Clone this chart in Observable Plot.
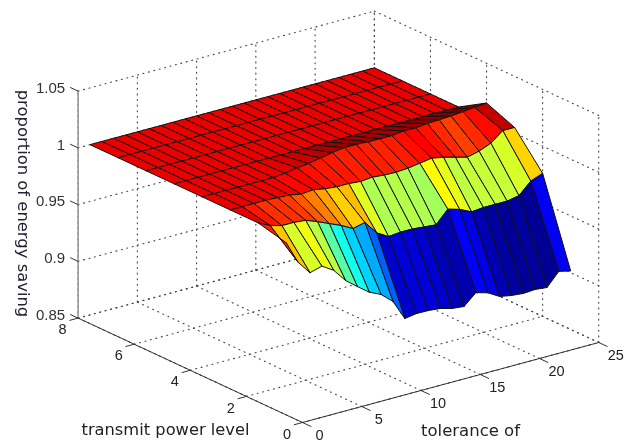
<!DOCTYPE html>
<html>
<head>
<meta charset="utf-8">
<script src="https://cdn.jsdelivr.net/npm/d3@7"></script>
<script src="https://cdn.jsdelivr.net/npm/@observablehq/plot@0.6"></script>
<style>
html,body{margin:0;padding:0;background:#fff}
svg{display:block}
</style>
</head>
<body>
<div id="chart"></div>
<script>
const tolerance = d3.range(1, 26);
const powerLevels = [1, 2, 3, 4, 5, 6, 7, 8];
const level1 = [0.994,0.974,0.962,0.965,0.9585,0.9467,0.9385,0.9308,0.9259,0.917,0.8991,0.9007,0.9005,0.8995,0.8967,0.8956,0.905,0.902,0.896,0.894,0.893,0.8937,0.8926,0.904,0.9015];
const level2 = [1,0.995,0.992,0.992,0.991,0.987,0.9825,0.978,0.9725,0.975,0.963,0.957,0.958,0.958,0.957,0.956,0.967,0.964,0.959,0.96,0.96,0.96,0.962,0.972,0.976];
const level3 = [1,1,1,1,0.9995,0.999,0.997,0.998,0.996,0.995,0.995,0.994,0.995,0.994,0.9937,0.9944,0.996,0.9976,0.9956,0.9928,0.99,0.9925,0.9967,1.005,1.005];
const level4 = [1,1,1,1,1,1,1,1.001,1.003,1.004,1.006,1.008,1.0095,1.0095,1.009,1.0088,1.0088,1.01,1.01,1.011,1.0115,1.012,1.013,1.014,1.015];
const level5 = [1,1,1,1,1,1,1,1,1,1,1,1,1,1,1,1,1,1,1,1,1,1,1,1,1];
const level6 = [1,1,1,1,1,1,1,1,1,1,1,1,1,1,1,1,1,1,1,1,1,1,1,1,1];
const level7 = [1,1,1,1,1,1,1,1,1,1,1,1,1,1,1,1,1,1,1,1,1,1,1,1,1];
const level8 = [1,1,1,1,1,1,1,1,1,1,1,1,1,1,1,1,1,1,1,1,1,1,1,1,1];
const surface = [level1, level2, level3, level4, level5, level6, level7, level8];

const xTicks = [0, 5, 10, 15, 20, 25];
const yTicks = [0, 2, 4, 6, 8];
const zTicks = [0.85, 0.9, 0.95, 1, 1.05];
const zTickLabels = ["0.85", "0.9", "0.95", "1", "1.05"];
const jetStops = [0, 0.125, 0.375, 0.625, 0.875, 1];
const jetColors = ["#000080", "#0000ff", "#00ffff", "#ffff00", "#ff0000", "#800000"];
const zMin = 0.85, zMax = 1.05, cMin = 0.89, cMax = 1.013;

// orthographic view of the data cube
const u = (x, y) => 11.85 * x - 28.05 * y;
const v = (x, y, z) => 3.2 * x + 13.05 * y + 1135 * (z - zMin);

const cells = [];
for (let j = powerLevels.length - 2; j >= 0; j--) {
  for (let i = tolerance.length - 2; i >= 0; i--) {
    const corner = surface[j][i];
    for (const [a, b] of [[i, j], [i + 1, j], [i + 1, j + 1], [i, j + 1], [i, j]]) {
      cells.push({cell: `${j}-${i}`, x: tolerance[a], y: powerLevels[b], z: surface[b][a], c: corner});
    }
  }
}

const seg = (list, id, a, b) => {
  list.push({id, x: a[0], y: a[1], z: a[2]}, {id, x: b[0], y: b[1], z: b[2]});
};
const grid = [];
for (const x of xTicks) {
  seg(grid, `fx${x}`, [x, 0, zMin], [x, 8, zMin]);
  seg(grid, `wx${x}`, [x, 8, zMin], [x, 8, zMax]);
}
for (const y of yTicks) {
  seg(grid, `fy${y}`, [0, y, zMin], [25, y, zMin]);
  seg(grid, `wy${y}`, [25, y, zMin], [25, y, zMax]);
}
for (const z of zTicks) {
  seg(grid, `a${z}`, [0, 8, z], [25, 8, z]);
  seg(grid, `b${z}`, [25, 8, z], [25, 0, z]);
}
const axes = [];
seg(axes, "x", [0, 0, zMin], [25, 0, zMin]);
seg(axes, "y", [0, 0, zMin], [0, 8, zMin]);
const zAxis = [];
seg(zAxis, "z", [0, 8, zMin], [0, 8, zMax]);
const ticks = [];
for (const x of xTicks) seg(ticks, `tx${x}`, [x, 0, zMin], [x, -0.3, zMin]);
for (const y of yTicks) seg(ticks, `ty${y}`, [0, y, zMin], [-0.7, y, zMin]);
for (const z of zTicks) seg(ticks, `tz${z}`, [0, 8, z], [0, 8.27, z]);

const X = d => u(d.x, d.y);
const Y = d => v(d.x, d.y, d.z);
const font = "Liberation Sans, Arial, sans-serif";
const labelFont = "DejaVu Sans, Verdana, sans-serif";

const chart = Plot.plot({
  width: 637,
  height: 441,
  margin: 0,
  style: {background: "#fff", filter: "blur(0.45px)"},
  x: {domain: [-302, 335], range: [0, 637], axis: null},
  y: {domain: [-19, 422], range: [441, 0], axis: null},
  color: {
    type: "linear",
    domain: jetStops.map(t => cMin + t * (cMax - cMin)),
    range: jetColors,
    clamp: true
  },
  marks: [
    Plot.line(grid, {x: X, y: Y, z: "id", stroke: "#444", strokeWidth: 1.1, strokeDasharray: "1,4.6"}),
    Plot.line(zAxis, {x: X, y: Y, z: "id", stroke: "#999", strokeWidth: 1.6}),
    Plot.line(axes, {x: X, y: Y, z: "id", stroke: "#333", strokeWidth: 1}),
    Plot.line(ticks, {x: X, y: Y, z: "id", stroke: "#333", strokeWidth: 1}),
    Plot.line(cells, {x: X, y: Y, z: "cell", fill: "c", stroke: "#111", strokeWidth: 1, strokeLinejoin: "round"}),
    Plot.text(xTicks, {x: d => u(d, 0), y: d => v(d, 0, zMin), text: d => String(d), dx: 17, dy: 13, fontFamily: font, fontSize: 14.5, fill: "#222"}),
    Plot.text(yTicks, {x: d => u(0, d), y: d => v(0, d, zMin), text: d => String(d), dx: -15.5, dy: 11.5, fontFamily: font, fontSize: 14.5, fill: "#222"}),
    Plot.text(zTicks, {x: d => u(0, 8), y: d => v(0, 8, d), text: (d, i) => zTickLabels[i], dx: -13, dy: -3, textAnchor: "end", fontFamily: font, fontSize: 15, fill: "#333"}),
    Plot.text(["transmit power level"], {frameAnchor: "top-left", lineAnchor: "middle", textAnchor: "middle", dx: 165, dy: 429, text: d => d, fontFamily: labelFont, fontSize: 16.3, fill: "#222"}),
    Plot.text(["tolerance of"], {frameAnchor: "top-left", lineAnchor: "middle", textAnchor: "middle", dx: 470, dy: 430, text: d => d, fontFamily: labelFont, fontSize: 16.5, fill: "#222"}),
    Plot.text(["proportion of energy saving"], {frameAnchor: "top-left", lineAnchor: "middle", textAnchor: "middle", dx: 23, dy: 203, rotate: 90, text: d => d, fontFamily: labelFont, fontSize: 16.4, fill: "#223"})
  ]
});
document.getElementById("chart").append(chart);
</script>
</body>
</html>
